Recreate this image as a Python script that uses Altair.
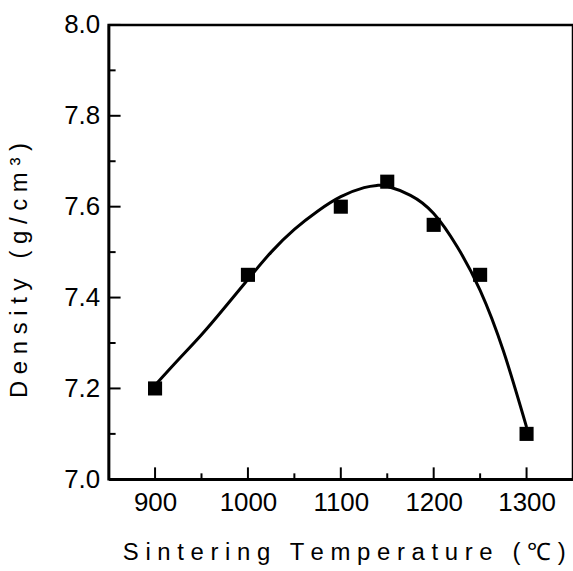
import altair as alt
import pandas as pd

# measured points
temps = [900, 1000, 1100, 1150, 1200, 1250, 1300]
density = [7.20, 7.45, 7.60, 7.655, 7.56, 7.45, 7.10]

# fitted curve
curve_t = [900, 925, 950, 975, 1000, 1025, 1050, 1075, 1100, 1125, 1140, 1150, 1175, 1200, 1225, 1250, 1275, 1300]
curve_d = [7.207, 7.263, 7.318, 7.378, 7.44, 7.50, 7.55, 7.59, 7.622, 7.642, 7.647, 7.645, 7.625, 7.585, 7.513, 7.416, 7.283, 7.115]

x_major = [900, 1000, 1100, 1200, 1300]
x_minor = [950, 1050, 1150, 1250]
y_major = [7.0, 7.2, 7.4, 7.6, 7.8, 8.0]
y_minor = [7.1, 7.3, 7.5, 7.7, 7.9]

# the original prints its axis titles with wide letter spacing
def spaced(words):
    return "\u00a0\u00a0 ".join(" ".join(w) for w in words)

x_title = spaced(["Sintering", "Temperature", "(℃)"])
y_title = spaced(["Density", "(g/cm³)"])

W, H = 466, 456
FONT = "Liberation Sans"

pts = pd.DataFrame({"T": temps, "D": density})
crv = pd.DataFrame({"T": curve_t, "D": curve_d})

xs = alt.Scale(domain=[850, 1350], nice=False, zero=False)
ys = alt.Scale(domain=[7.0, 8.0], nice=False, zero=False)

x_axis = alt.Axis(values=x_major, format="d", ticks=False, grid=False, labelFont=FONT,
                  labelFontSize=26, labelColor="black", labelPadding=10, domainColor="black",
                  domainWidth=2.5, title=x_title, titleFont=FONT, titleFontSize=24,
                  titleFontWeight="normal", titleColor="black", titleX=236, titleY=73,
                  titleBaseline="middle", titleAlign="center")
y_axis = alt.Axis(values=y_major, format=".1f", ticks=False, grid=False, labelFont=FONT,
                  labelFontSize=26, labelColor="black", labelPadding=9, domainColor="black",
                  domainWidth=2.5, title=y_title, titleFont=FONT, titleFontSize=24,
                  titleFontWeight="normal", titleColor="black", titleX=-89, titleY=246,
                  titleAngle=270, titleBaseline="middle", titleAlign="center")

line = alt.Chart(crv).mark_line(color="black", strokeWidth=3, interpolate="natural").encode(
    x=alt.X("T:Q", scale=xs, axis=x_axis),
    y=alt.Y("D:Q", scale=ys, axis=y_axis),
)
points = alt.Chart(pts).mark_square(color="black", size=200, opacity=1).encode(
    x=alt.X("T:Q", scale=xs),
    y=alt.Y("D:Q", scale=ys),
)

xmaj = alt.Chart(pd.DataFrame({"T": x_major})).mark_rule(color="black", strokeWidth=2).encode(
    x=alt.X("T:Q", scale=xs), y=alt.value(H), y2=alt.value(H - 12))
xmin = alt.Chart(pd.DataFrame({"T": x_minor})).mark_rule(color="black", strokeWidth=2).encode(
    x=alt.X("T:Q", scale=xs), y=alt.value(H), y2=alt.value(H - 6))
ymaj = alt.Chart(pd.DataFrame({"D": y_major})).mark_rule(color="black", strokeWidth=2).encode(
    y=alt.Y("D:Q", scale=ys), x=alt.value(0), x2=alt.value(12))
ymin = alt.Chart(pd.DataFrame({"D": y_minor})).mark_rule(color="black", strokeWidth=2).encode(
    y=alt.Y("D:Q", scale=ys), x=alt.value(0), x2=alt.value(7))

chart = alt.layer(line, points, xmaj, xmin, ymaj, ymin).properties(
    width=W, height=H,
    autosize=alt.AutoSizeParams(type="none"),
    padding={"left": 109, "top": 24, "right": 0, "bottom": 91},
    background="white",
).configure_view(stroke="black", strokeWidth=2.5)

chart.save("out.html", embed_options={"renderer": "svg", "actions": False})
